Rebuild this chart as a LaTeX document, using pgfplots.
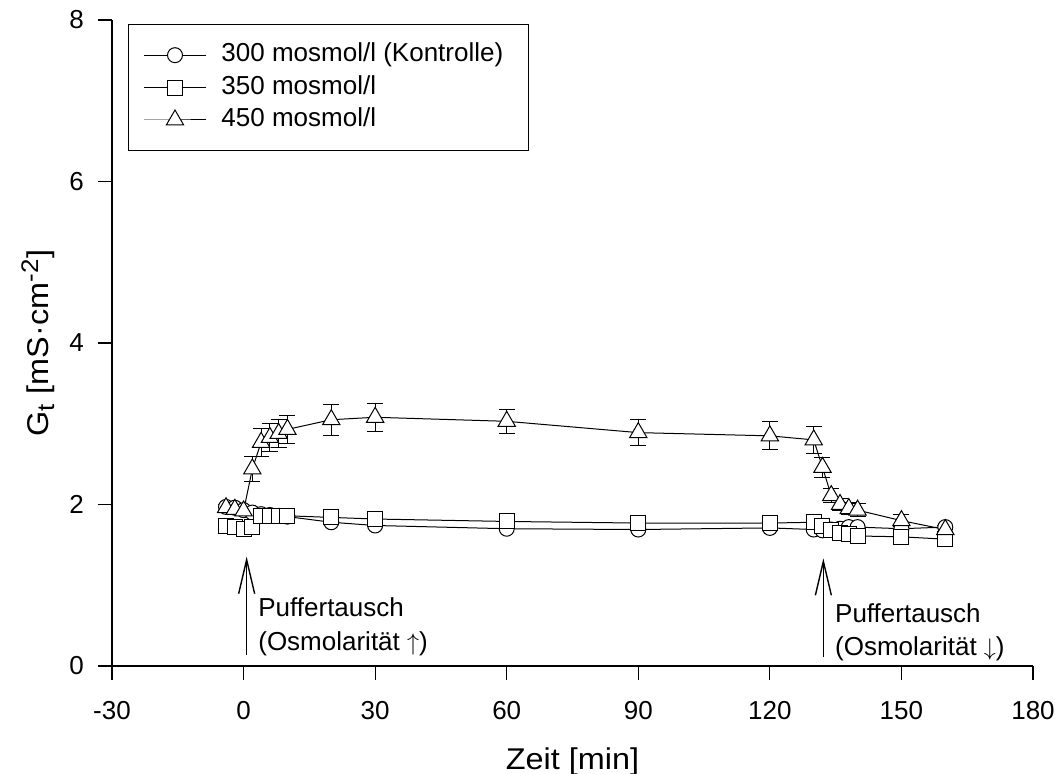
\documentclass[border=0pt]{standalone}
\usepackage{pgfplots}
\pgfplotsset{compat=1.18}
\usepackage{fontspec}
\setmainfont{Liberation Sans}
\newfontfamily\ylabfont{Liberation Sans}[FakeStretch=1.08]
\usetikzlibrary{arrows.meta}

\pgfplotstableread{
x y
-4 1.97
-2 1.96
0 1.93
2 1.90
4 1.88
6 1.87
8 1.86
10 1.85
20 1.78
30 1.74
60 1.70
90 1.69
120 1.71
130 1.69
132 1.68
134 1.69
136 1.70
138 1.72
140 1.72
150 1.70
160 1.72
}\tabA

\pgfplotstableread{
x y
-4 1.73
-2 1.72
0 1.70
2 1.72
4 1.86
6 1.86
8 1.86
10 1.86
20 1.84
30 1.82
60 1.79
90 1.77
120 1.77
130 1.78
132 1.73
134 1.69
136 1.65
138 1.63
140 1.61
150 1.60
160 1.57
}\tabB

\pgfplotstableread{
x y e
-4 1.96 0.04
-2 1.94 0.04
0 1.92 0.04
2 2.44 0.15
4 2.77 0.17
6 2.83 0.17
8 2.88 0.17
10 2.93 0.17
20 3.05 0.19
30 3.08 0.17
60 3.03 0.15
90 2.89 0.16
120 2.85 0.175
130 2.80 0.17
132 2.46 0.12
134 2.11 0.09
136 2.00 0.08
138 1.95 0.07
140 1.93 0.08
150 1.80 0.07
160 1.69 0.05
}\tabC

\newcommand{\mainfs}{\fontsize{13}{15.6}\selectfont}

\begin{document}
\begin{tikzpicture}[font=\mainfs]
\begin{axis}[
  scale only axis,
  width=460.5pt, height=323pt,
  xmin=-30, xmax=180, ymin=0, ymax=8,
  xtick={-30,0,30,60,90,120,150,180},
  ytick={0,2,4,6,8},
  axis lines*=left,
  axis line style={line width=0.6pt, black},
  tick align=outside,
  major tick length=7pt,
  tick style={line width=0.6pt, black},
  /pgf/number format/assume math mode=true,
  tick label style={font=\mainfs},
  xticklabel style={yshift=-7pt},
  yticklabel style={xshift=-3.5pt},
  xlabel={\ylabfont Zeit [min]},
  ylabel={\ylabfont G\textsubscript{\fontsize{12}{14}\selectfont t} [mS·cm\textsuperscript{\fontsize{12}{14}\selectfont -2}]},
  every axis x label/.style={at={(rel axis cs:0.5,0)}, yshift=-48pt, anchor=center, font=\fontsize{15}{18}\selectfont},
  every axis y label/.style={at={(rel axis cs:0,0.5)}, xshift=-37pt, rotate=90, anchor=center, font=\fontsize{15}{18}\selectfont},
  legend style={at={(rel axis cs:0,1)}, anchor=north west, xshift=8pt, yshift=-2pt,
    draw=black, line width=0.5pt, inner xsep=7.5pt, inner ysep=7.5pt, row sep=0.5pt, column sep=6pt,
    nodes={text height=9.5pt, text depth=3pt, inner xsep=1.5pt, inner ysep=1.6pt},
    font=\mainfs},
  legend cell align=left,
  legend image code/.code={\draw[mark repeat=2, mark phase=2, #1] plot coordinates {(0pt,0pt) (15.5pt,0pt) (31pt,0pt)};},
  clip=false,
]
\addplot[black, line width=0.5pt, mark=*, mark size=3.75pt, mark options={fill=white, solid}] table[x=x,y=y] {\tabA};
\addlegendentry{300 mosmol/l (Kontrolle)\hspace*{3.5pt}}
\addplot[black, line width=0.5pt, mark=square*, mark size=3.75pt, mark options={fill=white, solid}] table[x=x,y=y] {\tabB};
\addlegendentry{350 mosmol/l}
\addplot[black, line width=0.5pt, mark=triangle*, mark size=5pt, mark options={fill=white, solid},
  error bars/.cd, y dir=both, y explicit,
  error bar style={line width=0.5pt, black},
  error mark options={rotate=90, mark size=4pt, line width=0.5pt, black}] table[x=x,y=y,y error=e] {\tabC};
\addlegendentry{450 mosmol/l}

\draw[line width=0.7pt, -{Straight Barb[length=17pt, width=8pt]}] (axis cs:0.7,0.136) -- (axis cs:0.7,1.354);
\node[anchor=base west, inner sep=0pt, font=\mainfs] at (axis cs:3.28,0.607) {Puffertausch};
\node[anchor=base west, inner sep=0pt, font=\mainfs] at (axis cs:3.28,0.198) {(Osmolarität $\uparrow$)};

\draw[line width=0.7pt, -{Straight Barb[length=17pt, width=8pt]}] (axis cs:132.2,0.115) -- (axis cs:132.2,1.334);
\node[anchor=base west, inner sep=0pt, font=\mainfs] at (axis cs:134.8,0.536) {Puffertausch};
\node[anchor=base west, inner sep=0pt, font=\mainfs] at (axis cs:134.8,0.136) {(Osmolarität $\downarrow$)};

\coordinate (BL) at (rel axis cs:0,0);
\coordinate (TR) at (rel axis cs:1,1);
\end{axis}
\pgfresetboundingbox
\path ([shift={(-56pt,-54pt)}]BL) rectangle ([shift={(13.5pt,10pt)}]TR);
\end{tikzpicture}
\end{document}
